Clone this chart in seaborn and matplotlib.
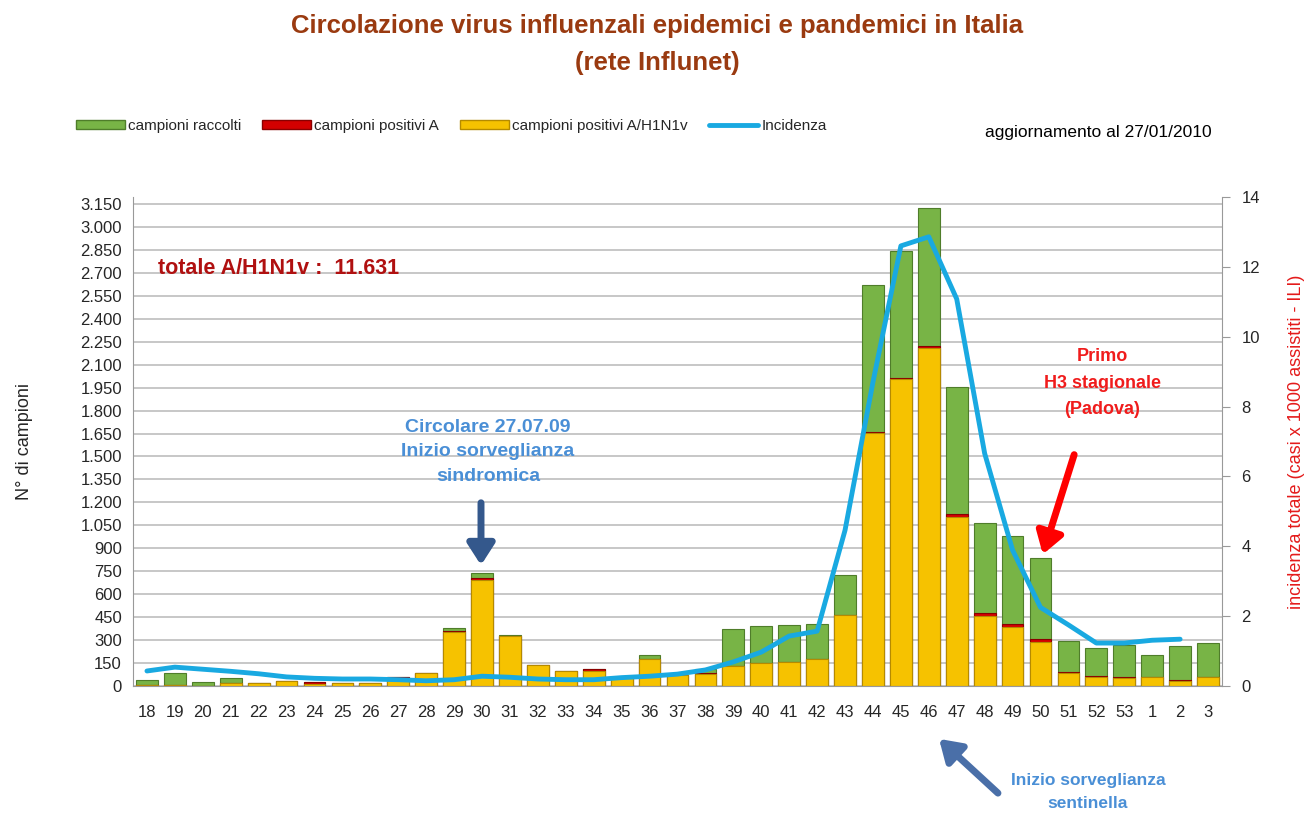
import numpy as np
import pandas as pd
import matplotlib
matplotlib.use("Agg")
import matplotlib.pyplot as plt
import seaborn as sns
from matplotlib.patches import Patch
from matplotlib.lines import Line2D

weeks = ["18", "19", "20", "21", "22", "23", "24", "25", "26", "27", "28", "29", "30",
         "31", "32", "33", "34", "35", "36", "37", "38", "39", "40", "41", "42", "43",
         "44", "45", "46", "47", "48", "49", "50", "51", "52", "53", "1", "2", "3"]
raccolti = [40, 85, 25, 50, 20, 30, 25, 22, 20, 62, 88, 380, 740,
            335, 137, 100, 112, 50, 200, 70, 110, 375, 390, 400, 405, 725,
            2620, 2845, 3125, 1955, 1065, 980, 835, 295, 250, 270, 200, 260, 280]
positivi_a = [5, 5, 0, 20, 18, 30, 25, 22, 20, 62, 85, 360, 705,
              330, 137, 100, 112, 50, 178, 70, 85, 130, 150, 160, 175, 465,
              1660, 2010, 2220, 1125, 475, 405, 307, 92, 65, 58, 60, 40, 60]
positivi_h1n1 = [5, 5, 0, 20, 18, 30, 15, 22, 20, 55, 85, 355, 695,
                 328, 137, 100, 100, 50, 175, 70, 80, 130, 150, 160, 175, 465,
                 1655, 2005, 2210, 1105, 455, 385, 290, 85, 60, 55, 60, 30, 60]
incidenza = [0.43, 0.54, 0.48, 0.42, 0.35, 0.26, 0.22, 0.2, 0.2, 0.18, 0.15, 0.18, 0.28,
             0.25, 0.2, 0.18, 0.18, 0.24, 0.28, 0.34, 0.46, 0.69, 0.97, 1.43, 1.57, 4.46,
             8.7, 12.6, 12.86, 11.08, 6.66, 3.89, 2.25, 1.75, 1.23, 1.23, 1.31, 1.34]

df = pd.DataFrame({"settimana": weeks, "raccolti": raccolti,
                   "pos_a": positivi_a, "h1n1": positivi_h1n1})

sns.set_style("white")
plt.rcParams["font.family"] = ["Liberation Sans", "DejaVu Sans"]

fig = plt.figure(figsize=(13.14, 8.16), dpi=100)
ax = fig.add_axes([133 / 1314, 1 - 686 / 816, (1222 - 133) / 1314, (686 - 197) / 816])

green = "#78b446"
red = "#d40000"
yellow = "#f6c200"
sns.barplot(data=df, x="settimana", y="raccolti", color=green, saturation=1,
            width=0.78, edgecolor="#4f7d2a", linewidth=0.8, ax=ax, order=weeks)
sns.barplot(data=df, x="settimana", y="pos_a", color=red, saturation=1,
            width=0.78, edgecolor="#8a0000", linewidth=0.8, ax=ax, order=weeks)
sns.barplot(data=df, x="settimana", y="h1n1", color=yellow, saturation=1,
            width=0.78, edgecolor="#b58a00", linewidth=0.8, ax=ax, order=weeks)

ax.set_xlim(-0.5, len(weeks) - 0.5)
ax.set_ylim(0, 3196)
yt = np.arange(0, 3151, 150)
ax.set_yticks(yt)
ax.set_yticklabels([f"{v:,}".replace(",", ".") for v in yt], fontsize=12)
ax.yaxis.grid(True, color="#bdbdbd", linewidth=1.2)
ax.set_axisbelow(True)
ax.set_xticks(range(len(weeks)))
ax.set_xticklabels(weeks, fontsize=12)
ax.set_xticks(np.arange(-0.5, len(weeks), 1), minor=True)
ax.tick_params(axis="x", which="major", length=0, pad=14)
ax.tick_params(axis="x", which="minor", length=6, color="#999999")
ax.tick_params(axis="y", length=0, pad=8)
ax.set_xlabel("")
ax.set_ylabel("N° di campioni", fontsize=13, labelpad=34)
for s in ["top", "right"]:
    ax.spines[s].set_visible(False)
for s in ["left", "bottom"]:
    ax.spines[s].set_color("#999999")

ax2 = ax.twinx()
sns.lineplot(x=np.arange(len(incidenza)), y=incidenza, ax=ax2, color="#19a9e1",
             linewidth=3.5, sort=False)
ax2.set_ylim(0, 14)
ax2.set_yticks(range(0, 15, 2))
ax2.tick_params(axis="y", labelsize=12, length=6, color="#999999", pad=8)
ax2.set_ylabel("incidenza totale (casi x 1000 assistiti - ILI)", color="#e41a1a",
               fontsize=13, labelpad=20)
for s in ["top", "left", "bottom"]:
    ax2.spines[s].set_visible(False)
ax2.spines["right"].set_color("#999999")

# titles and notes
fig.text(0.50, 1 - 26 / 816, "Circolazione virus influenzali epidemici e pandemici in Italia",
         ha="center", va="center", fontsize=18.5, fontweight="bold", color="#9a3a10")
fig.text(0.50, 1 - 63 / 816, "(rete Influnet)", ha="center", va="center",
         fontsize=18.5, fontweight="bold", color="#9a3a10")
fig.text(985 / 1314, 1 - 133 / 816, "aggiornamento al 27/01/2010", ha="left",
         va="center", fontsize=12.5, color="black")
fig.text(158 / 1314, 1 - 268 / 816, "totale A/H1N1v :  11.631", ha="left", va="center",
         fontsize=15.5, fontweight="bold", color="#b01010")
fig.text(488 / 1314, 1 - 452 / 816, "Circolare 27.07.09\nInizio sorveglianza\nsindromica",
         ha="center", va="center", fontsize=14, fontweight="bold", color="#4a8fd6",
         linespacing=1.6)
fig.text(1102 / 1314, 1 - 383 / 816, "Primo\nH3 stagionale\n(Padova)", ha="center",
         va="center", fontsize=13, fontweight="bold", color="#f01c1c", linespacing=1.7)
fig.text(1088 / 1314, 1 - 792 / 816, "Inizio sorveglianza\nsentinella", ha="center",
         va="center", fontsize=12.5, fontweight="bold", color="#4a8fd6", linespacing=1.6)


def fpos(x, y):
    return (x / 1314, 1 - y / 816)


arrow_kw = dict(arrowstyle="-|>,head_width=0.45,head_length=0.7", lw=5, mutation_scale=18)
ax.annotate("", xy=fpos(481, 568), xytext=fpos(481, 500), xycoords="figure fraction",
            arrowprops=dict(color="#34588c", **arrow_kw), annotation_clip=False)
ax.annotate("", xy=fpos(1042, 557), xytext=fpos(1075, 452), xycoords="figure fraction",
            arrowprops=dict(color="#ff0000", **arrow_kw), annotation_clip=False)
ax.annotate("", xy=fpos(937, 737), xytext=fpos(1000, 795), xycoords="figure fraction",
            arrowprops=dict(color="#4a6fa8", **arrow_kw), annotation_clip=False)

# legend
handles = [Patch(facecolor=green, edgecolor="#4f7d2a"),
           Patch(facecolor=red, edgecolor="#8a0000"),
           Patch(facecolor=yellow, edgecolor="#b58a00"),
           Line2D([0], [0], color="#19a9e1", lw=3.5)]
labels = ["campioni raccolti", "campioni positivi A", "campioni positivi A/H1N1v", "Incidenza"]
fig.legend(handles, labels, loc="center left", bbox_to_anchor=(62 / 1314, 1 - 126 / 816),
           ncol=4, frameon=False, fontsize=11, handlelength=3.2, handleheight=0.6,
           handletextpad=0.2, columnspacing=1.4)

fig.savefig("out.png", dpi=100)
